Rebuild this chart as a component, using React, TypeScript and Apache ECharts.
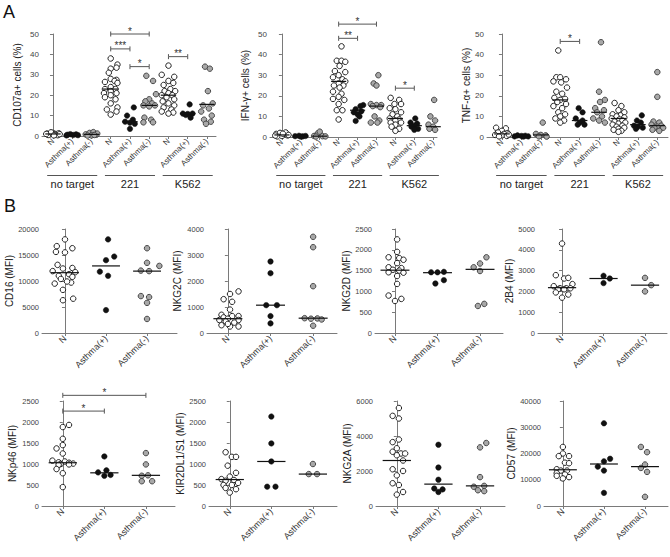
import React, { useEffect, useRef } from "react";
import * as echarts from "echarts";

type Pt = [number, number];
type Bracket = [number, number, number, string];

const FONT = "'Liberation Sans', Arial, sans-serif";

const groupNames = ["N", "Asthma(+)", "Asthma(-)"];
const targets = ["no target", "221", "K562"];
const catsA = [...groupNames, ...groupNames, ...groupNames];

// ---------- Panel A data: [x jitter, value %] per group ----------
const cd107aPoints: Pt[][] = [
  [[-0.3,1.2],[-0.15,0.8],[0,1.5],[0.15,1],[0.3,1.3],[-0.25,0.5],[0.1,0.6],[0.25,0.4],[-0.1,1.8],[0.05,0.3],[0.35,0.9],[-0.35,1]],
  [[-0.25,0.6],[-0.1,0.9],[0.05,0.5],[0.2,0.8],[0.3,0.4],[-0.3,0.3]],
  [[-0.3,0.8],[-0.1,1.5],[0.1,1.9],[0.25,0.6],[0,0.3],[0.3,1.2],[-0.2,0.2],[0.15,0.5]],
  [[0,38],[0.35,35],[0.3,33.5],[0,33],[-0.1,31],[0,28],[0.3,27.5],[0.2,27],[-0.3,26.5],[0.35,26],[0,24],[-0.3,23],[0.25,23],[0,22],[-0.35,21],[0.3,21],[0,20],[-0.3,19],[0.25,18],[0,16],[0.35,14],[-0.2,13],[0.3,12],[0,10.5]],
  [[0.2,14],[-0.15,10],[0.15,8],[-0.25,7],[0,6.5],[0.25,6],[0,3.5]],
  [[-0.15,29.5],[0.2,27],[0.35,20.5],[0,18],[-0.2,17],[0.15,16],[-0.3,15],[0,14.5],[0.3,15],[-0.25,9],[0.1,8],[-0.3,6.7],[0.2,6.7]],
  [[0,34.5],[0.3,29],[-0.35,30],[0,27],[0.25,26],[-0.25,25],[0.1,23],[-0.2,22],[0.35,22],[0,21],[-0.35,20],[0.2,20],[-0.1,19],[0.3,18],[-0.3,17],[0,16],[0.3,15],[-0.25,14],[0.15,13],[-0.35,12],[0.25,11.5],[0,11]],
  [[0.1,15.5],[-0.25,11],[0,10.8],[0.25,11],[-0.1,10.3],[0.15,9]],
  [[-0.1,34],[0.15,33],[0.05,22],[0.3,16],[-0.2,15],[0.1,13.5],[-0.3,12],[0.25,10],[-0.15,8],[0.2,7],[-0.05,6]],
];
const cd107aMedians = [1, 0.7, 0.8, 23, 7, 15, 20, 11, 15.5];
const cd107aBrackets: Bracket[] = [[3,5,50,"*"],[3,4,42.7,"***"],[4,5,34,"*"],[6,7,38.9,"**"]];

const ifngPoints: Pt[][] = [
  [[-0.3,1.5],[-0.1,2],[0.1,1.2],[0.3,0.8],[0,0.5],[-0.25,0.3],[0.2,2.2],[0.35,1],[-0.35,0.7],[0.05,1.6]],
  [[-0.3,0.4],[-0.1,0.6],[0.1,0.3],[0.25,0.5],[0,0.2]],
  [[-0.3,0.5],[-0.1,1.8],[0,2.6],[0.15,0.4],[0.3,0.3],[-0.2,0.2]],
  [[0.15,44],[-0.1,37],[0.15,37],[0.35,36.5],[0.05,34.5],[-0.2,32],[0.35,31.5],[0,30],[-0.3,29],[0.2,28],[0.35,27],[0,26],[-0.25,25],[0.25,25],[0.05,24],[-0.3,22],[0.15,21],[0,19.5],[-0.3,18.5],[0.3,18],[0,16],[-0.1,13],[0.2,13],[0,8.5]],
  [[0.3,15.5],[0.15,15],[-0.1,13.5],[0.2,12.5],[-0.2,12],[0,11],[0.1,10],[-0.1,7.8]],
  [[0.1,30],[-0.15,26],[0,25],[-0.3,16],[0,15.5],[0.25,15.5],[-0.2,15],[0.2,14.5],[-0.1,10],[0.15,8],[-0.3,7],[0.05,7]],
  [[-0.25,19],[0.2,18],[-0.05,16],[0.3,16],[-0.3,14],[0,13.5],[0.3,12],[-0.15,11],[0.1,10],[-0.3,9],[0.2,8.5],[0,8],[-0.25,7],[0.3,7],[0,6],[-0.2,5],[0.2,4],[0,3]],
  [[0.05,9],[-0.2,7],[0.15,6.5],[0,5.5],[-0.15,5],[0.2,4],[0,3.5]],
  [[0.25,20.5],[0.05,18],[-0.15,10],[0.1,8],[-0.25,6],[0,5],[0.25,4.5],[-0.2,4],[0.1,3.5],[0.3,3.5]],
];
const ifngMedians = [1, 0.4, 0.4, 27, 13, 15, 9, 5.5, 5];
const ifngBrackets: Bracket[] = [[3,5,54.8,"*"],[3,4,47.9,"**"],[6,7,23.7,"*"]];

const tnfPoints: Pt[][] = [
  [[-0.3,4.5],[0.2,4.2],[0,3],[-0.2,2.2],[0.3,1.8],[0.1,1.5],[-0.35,1],[0,0.8],[0.25,0.5],[-0.15,0.3],[0.35,1.2]],
  [[-0.2,0.8],[0,0.5],[0.2,0.6],[0.35,0.3],[-0.35,0.3],[0.1,0.2]],
  [[0.1,7],[-0.25,1.5],[0,1],[0.25,0.8],[-0.1,0.3],[0.3,0.2]],
  [[-0.1,42],[-0.2,29],[0,29],[0.3,28],[-0.35,27],[0.05,26.5],[0.35,24],[-0.2,22],[0.1,21],[-0.3,19],[0.25,18.5],[0,18],[-0.15,17],[0.3,16],[-0.35,15],[0.1,14],[-0.1,12],[0.25,11],[0,10],[-0.25,9],[0.2,8],[0,7]],
  [[-0.05,14],[0.15,12],[-0.2,9],[0.15,8],[0,7],[-0.1,6],[0.25,6]],
  [[0.1,46],[0,22],[0.3,18],[0.05,17],[-0.2,14],[0.25,13],[-0.1,12],[0.15,10],[-0.3,9],[0,8],[0.3,7]],
  [[-0.2,16.5],[0.15,15],[0,13],[0.3,12],[-0.3,11],[0.1,10.5],[-0.1,10],[0.3,9.5],[-0.35,9],[0.05,8.5],[0.2,8],[-0.2,7.5],[0.35,7],[0,6.5],[-0.3,6],[0.2,5.5],[-0.1,5],[0.3,4.5],[0,4],[-0.25,3.5],[0.15,3],[0,2.5]],
  [[0.2,10.5],[-0.05,8],[0.15,7],[-0.2,5.5],[0,5],[0.25,4.5],[-0.1,4]],
  [[0,31.5],[0,19.5],[-0.2,7.5],[0.1,7],[-0.3,6],[0.2,5.5],[0,5],[-0.15,4.5],[0.3,4.5],[-0.25,3.5],[0.1,3]],
];
const tnfMedians = [1.5, 0.5, 1, 18, 8, 12, 9, 6, 5.5];
const tnfBrackets: Bracket[] = [[3,4,46.4,"*"]];

// ---------- Panel B data (MFI) ----------
const cd16Points: Pt[][] = [
  [[0,18000],[-0.2,16700],[0.18,16300],[-0.22,15600],[0,15500],[-0.18,13100],[0.18,12500],[-0.05,12400],[-0.3,11900],[0.25,11700],[0.1,11300],[-0.15,11000],[0.18,10800],[-0.1,10400],[0.15,9700],[-0.25,9500],[0.05,9900],[-0.05,8300],[-0.05,6300],[0.2,6600]],
  [[0.05,18000],[0.2,14700],[0,14000],[-0.15,11800],[0.05,11000],[0,4400]],
  [[0,16300],[0,13500],[0.3,12900],[-0.15,12000],[0.05,11900],[-0.15,7100],[0.05,6900],[0,5800],[0,2700]],
];
const cd16Medians = [11600, 12900, 11900];

const nkg2cPoints: Pt[][] = [
  [[0.25,1600],[0.05,1500],[-0.1,1300],[0.1,1200],[0.05,900],[-0.15,700],[0.25,650],[-0.1,600],[0.1,650],[0,550],[0.25,500],[-0.2,500],[-0.05,450],[0.15,400],[-0.15,300],[0.05,250],[0.25,250],[0,350]],
  [[0,2750],[0,2300],[-0.1,1070],[0.15,1070],[0,650],[0,370]],
  [[0,3700],[0,3300],[0,1800],[-0.2,570],[-0.05,550],[0.1,560],[0.2,520],[0,280]],
];
const nkg2cMedians = [550, 1070, 570];

const nkg2dPoints: Pt[][] = [
  [[0.05,2250],[0.05,1950],[-0.15,1820],[0.1,1800],[0.2,1760],[0.05,1680],[-0.15,1580],[0.15,1560],[-0.05,1520],[0.1,1500],[-0.15,1460],[0.2,1450],[0.05,1370],[0.05,1180],[-0.15,900],[0.15,820],[0,770]],
  [[-0.15,1460],[0,1460],[0.15,1470],[0.15,1270],[-0.05,1190]],
  [[-0.15,1580],[0,1670],[0.15,1820],[0,1490],[-0.05,650],[0.1,700]],
];
const nkg2dMedians = [1510, 1450, 1530];

const b2b4Points: Pt[][] = [
  [[0,4300],[-0.15,2780],[0.05,2620],[0.15,2650],[0.25,2350],[-0.2,2250],[-0.05,2150],[0.1,2150],[0.2,2150],[-0.1,2100],[0.05,2100],[-0.15,1950],[0.15,1850],[0,1700]],
  [[0,2750],[0.15,2620],[0,2400]],
  [[0,2650],[0.15,2300],[0,2000]],
];
const b2b4Medians = [2180, 2620, 2300];

const nkp46Points: Pt[][] = [
  [[0.15,1930],[0,1880],[0,1600],[0,1450],[-0.15,1370],[0,1250],[-0.25,1080],[-0.1,1040],[0.05,1060],[0.15,1030],[0.25,1010],[-0.05,1000],[0.15,990],[-0.1,980],[-0.15,880],[0,780],[0,450]],
  [[0,1180],[-0.15,800],[0.05,850],[0.15,740],[0,720]],
  [[0,1260],[0,990],[-0.1,720],[0.05,730],[-0.1,590],[0.15,590]],
];
const nkp46Medians = [1030, 790, 730];
const nkp46Brackets: Bracket[] = [[0,1,2260,"*"],[0,2,2635,"*"]];

const kirPoints: Pt[][] = [
  [[-0.1,1280],[0.05,1170],[0.15,1170],[-0.05,960],[0.15,790],[0,700],[-0.2,640],[0.1,620],[-0.1,600],[0.2,550],[-0.15,500],[0.05,500],[-0.1,430],[0.15,400],[0,320]],
  [[0,2130],[0,1490],[0,1060],[-0.1,460],[0.1,460]],
  [[0,1000],[-0.1,760],[0.1,760]],
];
const kirMedians = [630, 1060, 760];

const nkg2aPoints: Pt[][] = [
  [[0.05,5600],[-0.1,5150],[0.05,5000],[0.05,3800],[-0.1,3650],[0,3300],[-0.1,3100],[0.1,3000],[0.2,3000],[0,2900],[0.15,2600],[-0.1,2100],[0.15,2000],[0,1750],[-0.1,1300],[0.05,1200],[0.15,800],[0,650]],
  [[0,3500],[0,2200],[0,1500],[-0.1,1000],[0.1,950],[0,800]],
  [[0.15,3600],[0,3350],[0,1650],[-0.15,1100],[0.1,1150],[-0.05,900],[0.1,850]],
];
const nkg2aMedians = [2600, 1250, 1150];

const cd57Points: Pt[][] = [
  [[0,22500],[0,20000],[-0.1,19000],[0.15,19000],[0.05,16500],[0.15,16300],[-0.15,14000],[-0.05,13500],[0.1,13500],[-0.15,12500],[0.05,12000],[0.15,11000],[-0.15,11500],[0,10500]],
  [[0,31500],[0.15,18000],[0,17000],[-0.15,15000],[0,13500],[0,5000]],
  [[-0.1,22500],[0.05,20500],[0,15800],[-0.1,14500],[0.05,13000],[0,3500]],
];
const cd57Medians = [13800, 16000, 15000];

interface Panel {
  left: number; top: number; width: number; height: number;
  xMin: number; xMax: number; yMax: number; yInterval: number;
  yName: string; nameGap: number; cats: string[];
  groups: Pt[][]; medians: number[]; brackets: Bracket[];
  size: number; medHalf: number; xFont: number; yFont: number; isA: boolean;
}

const panels: Panel[] = [
  { left: 42, top: 34, width: 174, height: 102, xMin: -0.57, xMax: 8.47, yMax: 50, yInterval: 10, yName: "CD107a+ cells (%)", nameGap: 20, cats: catsA, groups: cd107aPoints, medians: cd107aMedians, brackets: cd107aBrackets, size: 5.5, medHalf: 0.4, xFont: 8, yFont: 8, isA: true },
  { left: 270, top: 34, width: 167, height: 103, xMin: -0.63, xMax: 8.2, yMax: 50, yInterval: 10, yName: "IFN-γ+ cells (%)", nameGap: 20, cats: catsA, groups: ifngPoints, medians: ifngMedians, brackets: ifngBrackets, size: 5.5, medHalf: 0.4, xFont: 8, yFont: 8, isA: true },
  { left: 487, top: 34, width: 181, height: 103, xMin: -0.77, xMax: 8.55, yMax: 50, yInterval: 10, yName: "TNF-α+ cells (%)", nameGap: 15, cats: catsA, groups: tnfPoints, medians: tnfMedians, brackets: tnfBrackets, size: 5.5, medHalf: 0.4, xFont: 8, yFont: 8, isA: true },
  { left: 42, top: 229, width: 135, height: 104, xMin: -0.56, xMax: 2.73, yMax: 20000, yInterval: 5000, yName: "CD16 (MFI)", nameGap: 24, cats: groupNames, groups: cd16Points, medians: cd16Medians, brackets: [], size: 5.5, medHalf: 0.34, xFont: 9, yFont: 7.5, isA: false },
  { left: 207, top: 229, width: 130, height: 104, xMin: -0.49, xMax: 2.56, yMax: 4000, yInterval: 1000, yName: "NKG2C (MFI)", nameGap: 25, cats: groupNames, groups: nkg2cPoints, medians: nkg2cMedians, brackets: [], size: 5.5, medHalf: 0.34, xFont: 9, yFont: 7.5, isA: false },
  { left: 375, top: 229, width: 128, height: 104, xMin: -0.47, xMax: 2.54, yMax: 2500, yInterval: 500, yName: "NKG2D (MFI)", nameGap: 23, cats: groupNames, groups: nkg2dPoints, medians: nkg2dMedians, brackets: [], size: 5.5, medHalf: 0.34, xFont: 9, yFont: 7.5, isA: false },
  { left: 538, top: 229, width: 129, height: 104, xMin: -0.58, xMax: 2.53, yMax: 5000, yInterval: 1000, yName: "2B4 (MFI)", nameGap: 23, cats: groupNames, groups: b2b4Points, medians: b2b4Medians, brackets: [], size: 5.5, medHalf: 0.34, xFont: 9, yFont: 7.5, isA: false },
  { left: 42, top: 401, width: 133, height: 105, xMin: -0.5, xMax: 2.7, yMax: 2500, yInterval: 500, yName: "NKp46 (MFI)", nameGap: 25, cats: groupNames, groups: nkp46Points, medians: nkp46Medians, brackets: nkp46Brackets, size: 5.5, medHalf: 0.34, xFont: 9, yFont: 7.5, isA: false },
  { left: 209, top: 401, width: 128, height: 105, xMin: -0.5, xMax: 2.58, yMax: 2500, yInterval: 500, yName: "KIR2DL1/S1 (MFI)", nameGap: 21, cats: groupNames, groups: kirPoints, medians: kirMedians, brackets: [], size: 5.5, medHalf: 0.34, xFont: 9, yFont: 7.5, isA: false },
  { left: 376, top: 401, width: 129, height: 105, xMin: -0.5, xMax: 2.6, yMax: 6000, yInterval: 2000, yName: "NKG2A (MFI)", nameGap: 24, cats: groupNames, groups: nkg2aPoints, medians: nkg2aMedians, brackets: [], size: 5.5, medHalf: 0.34, xFont: 9, yFont: 7.5, isA: false },
  { left: 544, top: 401, width: 124, height: 105, xMin: -0.46, xMax: 2.56, yMax: 40000, yInterval: 10000, yName: "CD57 (MFI)", nameGap: 28, cats: groupNames, groups: cd57Points, medians: cd57Medians, brackets: [], size: 5.5, medHalf: 0.34, xFont: 9, yFont: 7.5, isA: false },
];

const AXIS = "#7a7a7a";
const TXT = "#333";
const styles = [
  { color: "#ffffff", borderColor: "#222", borderWidth: 1 },
  { color: "#111111", borderColor: "#111", borderWidth: 0.5 },
  { color: "#a8a8a8", borderColor: "#3a3a3a", borderWidth: 0.9 },
];

function buildOption() {
  const grid: any[] = [], xAxis: any[] = [], yAxis: any[] = [], series: any[] = [];
  panels.forEach((p, i) => {
    grid.push({ left: p.left, top: p.top, width: p.width, height: p.height });
    const idx = p.cats.map((_, k) => k);
    xAxis.push({
      gridIndex: i, type: "value", min: p.xMin, max: p.xMax,
      axisLine: { show: true, onZero: false, lineStyle: { color: AXIS, width: 1 } },
      axisTick: { show: true, customValues: idx, length: 3, lineStyle: { color: AXIS } },
      axisLabel: { customValues: idx, formatter: (v: number) => p.cats[Math.round(v)] ?? "", rotate: 45, fontSize: p.xFont, color: TXT, fontFamily: FONT, margin: 4 },
      splitLine: { show: false },
    });
    yAxis.push({
      gridIndex: i, type: "value", min: 0, max: p.yMax, interval: p.yInterval,
      name: p.yName, nameLocation: "middle", nameGap: p.nameGap,
      nameTextStyle: { fontSize: 10, color: "#222", fontFamily: FONT },
      axisLine: { show: true, lineStyle: { color: AXIS, width: 1 } },
      axisTick: { show: true, length: 3, lineStyle: { color: AXIS } },
      axisLabel: { fontSize: p.yFont, color: "#444", fontFamily: FONT, margin: 3, formatter: (v: number) => String(v) },
      splitLine: { show: false },
    });
    for (let t = 0; t < 3; t++) {
      const data: number[][] = [];
      p.groups.forEach((g, gi) => {
        if (gi % 3 !== t) return;
        g.forEach(([dx, y]) => data.push([gi + dx, y]));
      });
      series.push({
        type: "scatter", xAxisIndex: i, yAxisIndex: i, symbol: "circle", symbolSize: p.size,
        itemStyle: { ...styles[t], opacity: 1 }, data, z: 2, silent: true,
      });
    }
    const half = p.medHalf;
    series.push({
      type: "custom", xAxisIndex: i, yAxisIndex: i, z: 3, silent: true,
      itemStyle: { color: "#111" },
      data: p.medians.map((m, k) => [k, m]),
      encode: { x: 0, y: 1 },
      renderItem: (_params: any, api: any) => {
        const x = api.value(0), y = api.value(1);
        const a = api.coord([x - half, y]);
        const b = api.coord([x + half, y]);
        return { type: "line", shape: { x1: a[0], y1: a[1], x2: b[0], y2: b[1] }, style: { stroke: "#111", lineWidth: 1.2 } };
      },
    });
  });
  return {
    animation: false,
    backgroundColor: "#ffffff",
    textStyle: { fontFamily: FONT },
    grid, xAxis, yAxis, series,
  };
}

export default function App() {
  const ref = useRef<HTMLDivElement>(null);
  useEffect(() => {
    if (!ref.current) return;
    const chart = echarts.init(ref.current, null, { renderer: "svg" });
    chart.setOption(buildOption());
    const graphic: any[] = [
      { type: "text", left: 3, top: 3, style: { text: "A", fontSize: 18, fill: "#111", fontFamily: FONT } },
      { type: "text", left: 4, top: 197, style: { text: "B", fontSize: 18, fill: "#111", fontFamily: FONT } },
    ];
    const st = { stroke: "#555555", lineWidth: 1 };
    panels.forEach((p, i) => {
      // significance brackets
      p.brackets.forEach(([x1, x2, y, label]) => {
        const a = chart.convertToPixel({ gridIndex: i } as any, [x1, y]) as number[];
        const b = chart.convertToPixel({ gridIndex: i } as any, [x2, y]) as number[];
        graphic.push({ type: "polyline", z: 10, shape: { points: [[a[0], a[1] + 2.5], [a[0], a[1]], [b[0], b[1]], [b[0], b[1] + 2.5]] }, style: { ...st, fill: null } });
        graphic.push({ type: "line", z: 10, shape: { x1: a[0], y1: a[1] - 2.5, x2: a[0], y2: a[1] }, style: st });
        graphic.push({ type: "line", z: 10, shape: { x1: b[0], y1: b[1] - 2.5, x2: b[0], y2: b[1] }, style: st });
        graphic.push({ type: "text", z: 10, x: (a[0] + b[0]) / 2, y: a[1] - 1, style: { text: label, fontSize: 10, lineHeight: 4, fill: "#333333", fontFamily: FONT, align: "center", verticalAlign: "bottom" } });
      });
      if (!p.isA) return;
      targets.forEach((name, t) => {
        const x0 = chart.convertToPixel({ xAxisIndex: i } as any, t * 3 - 0.3) as number;
        const x2 = chart.convertToPixel({ xAxisIndex: i } as any, t * 3 + 2.3) as number;
        const xc = chart.convertToPixel({ xAxisIndex: i } as any, t * 3 + 1) as number;
        graphic.push({ type: "line", shape: { x1: x0, y1: 175.5, x2: x2, y2: 175.5 }, style: st });
        graphic.push({ type: "text", x: xc, y: 184, style: { text: name, fontSize: 11, fill: "#222", fontFamily: FONT, align: "center", verticalAlign: "middle" } });
      });
    });
    chart.setOption({ graphic });
    return () => chart.dispose();
  }, []);
  return <div ref={ref} style={{ position: "fixed", left: 0, top: 0, width: 670, height: 557, background: "#fff" }} />;
}
